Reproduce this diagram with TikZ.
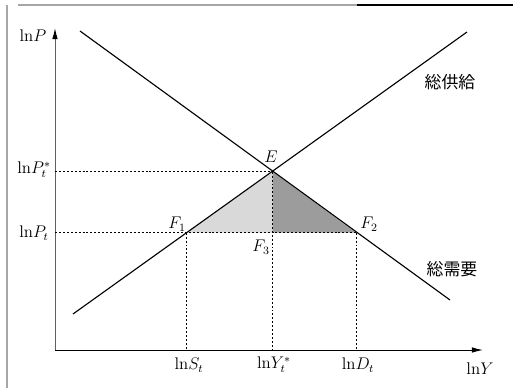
\documentclass[tikz,border=0pt]{standalone}
\usepackage{amsmath,amssymb}
\usepackage{fontspec}
\usepackage{xcolor}
\usepackage{tikz}
\usetikzlibrary{arrows.meta,positioning,calc}
\newfontfamily\jpfont{Noto Sans CJK JP}

\begin{document}
\begin{tikzpicture}[
    x=0.025cm, y=-0.025cm,
    curve/.style={black, line width=0.8pt},
    axisline/.style={line width=0.7pt, -{Latex[length=2.8mm,width=1.4mm,color=black]}},
    guide/.style={black, line width=0.5pt, dash pattern=on 1.4pt off 1.4pt},
    lbl/.style={font=\large, inner sep=1pt},
    jlbl/.style={font=\jpfont\large, inner sep=1pt}
]
    \useasboundingbox (0,0) rectangle (513,388);
    % frame
    \draw[gray!70, line width=0.8pt] (7,5) -- (7,388);
    \draw[gray!70, line width=0.8pt] (18,5) -- (357,5);
    \draw[black, line width=0.8pt] (357,5) -- (513,5);

    % points
    \coordinate (O) at (55,350);
    \coordinate (ytip) at (55,28);
    \coordinate (xtip) at (483,350);
    \coordinate (E) at (272.7,171.7);
    \coordinate (F1) at (186.7,232.7);
    \coordinate (F2) at (356,232.7);
    \coordinate (F3) at (272.7,232.7);
    \coordinate (Pstar) at (55,171.7);
    \coordinate (Pt) at (55,232.7);
    \coordinate (S1) at (186.7,350);
    \coordinate (Y1) at (272.7,350);
    \coordinate (D1) at (356,350);
    \coordinate (sup0) at (73,314);
    \coordinate (sup1) at (467,32);
    \coordinate (dem0) at (80,31);
    \coordinate (dem1) at (450,300);

    % shaded triangles
    \fill[gray!30] (F1) -- (E) -- (F3) -- cycle;
    \fill[gray!78] (E) -- (F3) -- (F2) -- cycle;

    % axes
    \draw[axisline, gray!75!black] (O) -- (ytip);
    \draw[axisline] (O) -- (xtip);

    % guides
    \draw[guide] (Pstar) -- (E);
    \draw[guide] (Pt) -- (F2);
    \draw[guide] (F1) -- (S1);
    \draw[guide] (E) -- (Y1);
    \draw[guide] (F2) -- (D1);

    % curves
    \draw[curve] (sup0) -- (sup1);
    \draw[curve] (dem0) -- (dem1);

    % labels
    \node[lbl] (lnP) at (33,36) {$\mathrm{ln}P$};
    \node[lbl] (lnPs) at (34,170) {$\mathrm{ln}P^{*}_{t}$};
    \node[lbl] (lnPt) at (34,233) {$\mathrm{ln}P_{t}$};
    \node[lbl] (lnS) at (189,365) {$\mathrm{ln}S_{t}$};
    \node[lbl] (lnYs) at (274,365) {$\mathrm{ln}Y^{*}_{t}$};
    \node[lbl] (lnD) at (358,365) {$\mathrm{ln}D_{t}$};
    \node[lbl] (lnY) at (480,369) {$\mathrm{ln}Y$};
    \node[lbl] (Elbl) at (271,157) {$E$};
    \node[lbl] (F1lbl) at (177,224) {$F_1$};
    \node[lbl] (F2lbl) at (369,224) {$F_2$};
    \node[lbl] (F3lbl) at (261,247) {$F_3$};
    \node[jlbl] (supply) at (450,82) {総供給};
    \node[jlbl] (demand) at (452,269) {総需要};
\end{tikzpicture}
\end{document}
